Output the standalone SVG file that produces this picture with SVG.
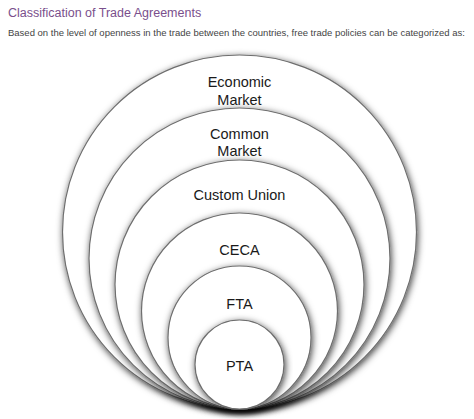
<svg xmlns="http://www.w3.org/2000/svg" width="474" height="419" viewBox="0 0 474 419">
<defs>
<filter id="sh" x="-10%" y="-10%" width="120%" height="125%">
<feGaussianBlur in="SourceAlpha" stdDeviation="3.5"/>
<feOffset dx="0.5" dy="2" result="b"/>
<feFlood flood-color="#000" flood-opacity="0.75"/>
<feComposite in2="b" operator="in" result="s"/>
<feMerge><feMergeNode in="s"/><feMergeNode in="SourceGraphic"/></feMerge>
</filter>
</defs>
<style>
.c{fill:#fff;stroke:#6e6e6e;stroke-width:1.2;filter:url(#sh)}
.t{font-family:"Liberation Sans",Arial,sans-serif;font-size:14.5px;fill:#1a1a1a;text-anchor:middle}
.title{font-family:"Liberation Sans",Arial,sans-serif;font-size:12.5px;fill:#7a4f8c}
.sub{font-family:"Liberation Sans",Arial,sans-serif;font-size:9.5px;fill:#444}
</style>
<rect width="474" height="419" fill="#fff"/>
<text class="title" x="8" y="17">Classification of Trade Agreements</text>
<text class="sub" x="8" y="36">Based on the level of openness in the trade between the countries, free trade policies can be categorized as:</text>
<g id="connectors"/>
<g id="economic-market">
<circle class="c" cx="239.5" cy="232" r="177"/>
<text class="t" x="239.5" y="87">Economic</text>
<text class="t" x="239.5" y="105">Market</text>
</g>
<g id="common-market">
<circle class="c" cx="239.5" cy="258.5" r="150.5"/>
<text class="t" x="239.5" y="139">Common</text>
<text class="t" x="239.5" y="156">Market</text>
</g>
<g id="custom-union">
<circle class="c" cx="239.5" cy="284.5" r="124.5"/>
<text class="t" x="239.5" y="200">Custom Union</text>
</g>
<g id="ceca">
<circle class="c" cx="239.5" cy="311" r="98"/>
<text class="t" x="239.5" y="255">CECA</text>
</g>
<g id="fta">
<circle class="c" cx="239.5" cy="337.5" r="71.5"/>
<text class="t" x="239.5" y="309">FTA</text>
</g>
<g id="pta">
<circle class="c" cx="239.5" cy="364.5" r="44.5"/>
<text class="t" x="239.5" y="371">PTA</text>
</g>
</svg>
